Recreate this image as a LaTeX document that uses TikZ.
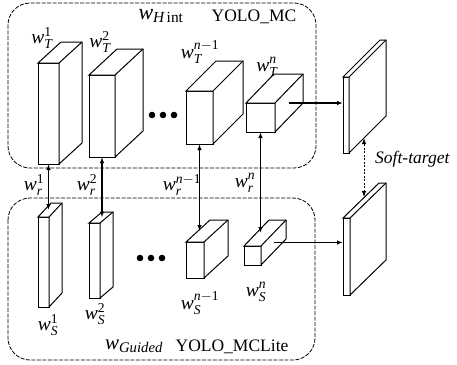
\documentclass[tikz,border=0pt]{standalone}
\usepackage{amsmath}
\usepackage{fontspec}
\setmainfont{Liberation Serif}
\usetikzlibrary{arrows.meta,calc}

\tikzset{
  face/.style={draw,fill=white,line width=1pt,inner sep=0pt,outer sep=0pt},
  group/.style={line width=0.8pt,dash pattern=on 4pt off 1.5pt,rounded corners=22pt},
  link/.style={line width=1.6pt},
  lbl/.style={inner sep=0pt,font=\fontsize{17.5}{20}\selectfont},
  wlbl/.style={inner sep=0pt,font=\fontsize{19.5}{22}\selectfont}
}
\newcommand{\wlab}[2]{$\textit{w}_{#1}^{#2}$}

\begin{document}
\begin{tikzpicture}[x=1pt,y=-1pt,>={Latex[length=6pt,width=4.5pt]}]
  \useasboundingbox (0,0) rectangle (457,364);
  % teacher and student frames
  \draw[group] (8,3) rectangle (316,168);
  \draw[group] (8,198) rectangle (315,360);
  % blocks: name / front face corners / depth
  \foreach \nm/\xa/\ya/\xb/\yb/\da/\db in {
      t1/38/63/59/164/23/21, t2/89/75/115/157/28/26,
      t3/186/91/213/144/30/30, t4/246/103/275/132/28/29,
      s1/38/217/49/307/13/14, s2/89/223/100/298/13/11,
      s3/186/242/204/278/24/22, s4/244/246/261/265/25/26,
      p1/343/77/349/153/37/37, p2/343/218/350/295/36/35}{
    \node[face,minimum width={(\xb-\xa)*1pt},minimum height={(\yb-\ya)*1pt}]
      (\nm) at ({(\xa+\xb)/2},{(\ya+\yb)/2}) {};
    \draw[face] (\nm.north west) -- ++(\da,-\db) -- ++(\xb-\xa,0) -- ++(0,\yb-\ya)
      -- (\nm.south east) -- (\nm.north east) -- cycle;
    \draw[line width=1pt] (\nm.north east) -- ++(\da,-\db);
    \coordinate (\nm-r) at ($(\nm.east)+({\da/2},{-\db/2})$);
    \coordinate (\nm-t) at ($(\nm.north)+({\da/2},{-\db/2})$);
  }
  % dots
  \foreach \x in {152,163,174} \fill (\x,115) circle (3.3pt);
  \foreach \x in {140,151,162} \fill (\x,258) circle (3.3pt);
  % connectors
  \foreach \i in {1,2,3,4}
    \draw[link,<->] (t\i.south) -- (t\i.south |- s\i-t);
  \draw[link,->] (t4-r) -- (t4-r -| p1.west);
  \draw[link,->] (s4-r) -- (s4-r -| p2.west);
  \coordinate (sta) at ($(p1.south east)+(15,-15)$);
  \coordinate (stb) at ($(p2.north west)+(21,-21)$);
  \draw[line width=1pt,<->,dash pattern=on 2pt off 1.5pt] (stb) -- (sta);
  % labels
  \node[wlbl] (lt1) at (42,38) {\wlab{\textit{T}}{\textup{1}}};
  \node[wlbl] (lt2) at (100,42) {\wlab{\textit{T}}{\textup{2}}};
  \node[wlbl] (lt3) at (200,52) {\wlab{\textit{T}}{\textit{n}-\textup{1}}};
  \node[wlbl] (lt4) at (267,67) {\wlab{\textit{T}}{\textit{n}}};
  \node[wlbl] (lr1) at (34,185) {\wlab{\textit{r}}{\textup{1}}};
  \node[wlbl] (lr2) at (87,185) {\wlab{\textit{r}}{\textup{2}}};
  \node[wlbl] (lr3) at (182,185) {\wlab{\textit{r}}{\textit{n}-\textup{1}}};
  \node[wlbl] (lr4) at (245,183) {\wlab{\textit{r}}{\textit{n}}};
  \node[wlbl] (ls1) at (48,325) {\wlab{\textit{S}}{\textup{1}}};
  \node[wlbl] (ls2) at (95,314) {\wlab{\textit{S}}{\textup{2}}};
  \node[wlbl] (ls3) at (200,303) {\wlab{\textit{S}}{\textit{n}-\textup{1}}};
  \node[wlbl] (ls4) at (256,292) {\wlab{\textit{S}}{\textit{n}}};
  \node[wlbl,font=\fontsize{22}{24}\selectfont] (whint) at (161,16) {$\textit{w}_{\textit{H}\,\textup{int}}$};
  \node[lbl] (ymc) at (254,17) {YOLO\_MC};
  \node[wlbl,font=\fontsize{21}{24}\selectfont] (wgd) at (134,346) {$\textit{w}_{\textit{Guided}}$};
  \node[lbl] (ymcl) at (232,347) {YOLO\_MCLite};
  \node[lbl,anchor=west] (soft) at (375,159) {\textit{Soft-target}};
\end{tikzpicture}
\end{document}
